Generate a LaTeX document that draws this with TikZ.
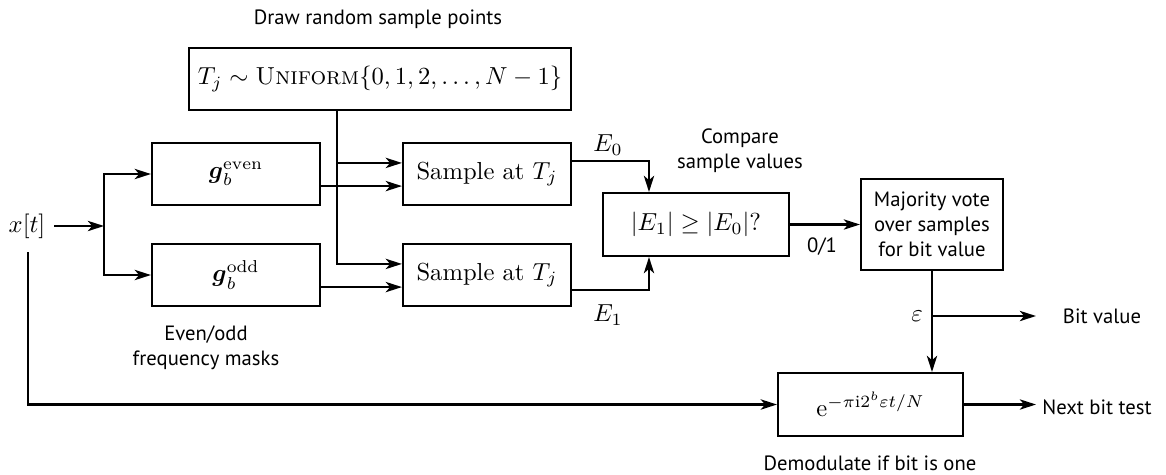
\documentclass[tikz,border=0pt]{standalone}
\usepackage{amsmath,amssymb}
\usepackage{fontspec}
\newfontfamily\labelfont{PT Sans}
\usetikzlibrary{arrows.meta,calc}
\begin{document}
\begin{tikzpicture}[x=0.4064pt,y=-0.4064pt,
  blk/.style={draw, line width=0.85pt, inner sep=0pt, align=center},
  arr/.style={-{Stealth[length=6.6pt,width=4.2pt,inset=1.8pt]}, line width=0.85pt},
  lab/.style={font=\labelfont\fontsize{8.4}{10.2}\selectfont, align=center, inner sep=0pt},
  mlab/.style={inner sep=0pt}]
\useasboundingbox (0,0) rectangle (1166,474);

% blocks
\node[blk, minimum width=155.2pt, minimum height=25.2pt] (unif) at (380,79)
  {$T_j \sim \textsc{Uniform}\{0,1,2,\ldots,N-1\}$};
\node[blk, minimum width=68.3pt, minimum height=25.2pt] (geven) at (236,174)
  {$\boldsymbol{g}_b^{\mathrm{even}}$};
\node[blk, minimum width=68.3pt, minimum height=25.2pt] (godd) at (236,275)
  {$\boldsymbol{g}_b^{\mathrm{odd}}$};
\node[blk, minimum width=68.3pt, minimum height=25.2pt] (s1) at (487,174)
  {Sample at $T_j$};
\node[blk, minimum width=68.3pt, minimum height=25.2pt] (s2) at (487,275)
  {Sample at $T_j$};
\node[blk, minimum width=75.6pt, minimum height=25.6pt] (comp) at (696,224.5)
  {$|E_1| \geq |E_0|?$};
\node[blk, minimum width=57.7pt, minimum height=37pt,
  font=\labelfont\fontsize{8.4}{10.2}\selectfont] (maj) at (932,224.5)
  {Majority vote\\over samples\\for bit value};
\node[blk, minimum width=75.2pt, minimum height=25.6pt] (demod) at (870.5,404.5)
  {$\mathrm{e}^{-\pi\mathrm{i}2^b\varepsilon t/N}$};

% labels
\node[lab] (ttl) at (378,19) {Draw random sample points};
\node[lab] (cmp) at (740,151) {Compare\\sample values};
\node[lab] (msk) at (206,348) {Even/odd\\frequency masks};
\node[lab] (dml) at (870,463) {Demodulate if bit is one};
\node[lab] (o1) at (822,247) {0/1};
\node[lab] (bitv) at (1102,316) {Bit value};
\node[lab] (nbt) at (1097,407) {Next bit test};
\node[mlab] (xt) at (27,226) {$x[t]$};
\node[mlab] (e0) at (608,145) {$E_0$};
\node[mlab] (e1) at (608,315) {$E_1$};
\node[mlab] (eps) at (917,316) {$\varepsilon$};

% coordinates
\coordinate (sp) at (104,226);
\coordinate (xs) at (54,226);
\coordinate (tap) at (337,110);
\coordinate (xb) at (28,252);
\coordinate (br) at (932,316);
\coordinate (bvend) at (1036,316);
\coordinate (nbend) at (1036,404.5);

% connectors
\draw[arr] (xs) -- (sp);
\draw[arr] (sp) |- (geven.west);
\draw[arr] (sp) |- (godd.west);
\draw[arr] (tap) |- ([yshift=4.5pt]s1.west);
\draw[arr] (tap) |- ([yshift=4.5pt]s2.west);
\draw[arr] ([yshift=-4.9pt]geven.east) -- ([yshift=-4.9pt]s1.west);
\draw[arr] ([yshift=-4.9pt]godd.east) -- ([yshift=-4.9pt]s2.west);
\draw[arr] ([yshift=5.3pt]s1.east) -| ([xshift=-19.1pt]comp.north);
\draw[arr] ([yshift=-6.1pt]s2.east) -| ([xshift=-19.1pt]comp.south);
\draw[arr] (comp.east) -- (maj.west);
\draw[arr] (maj.south) -- (maj.south |- demod.north);
\draw[arr] (br) -- (bvend);
\draw[arr] (demod.east) -- (nbend);
\draw[arr] (xb) |- (demod.west);
\end{tikzpicture}
\end{document}
